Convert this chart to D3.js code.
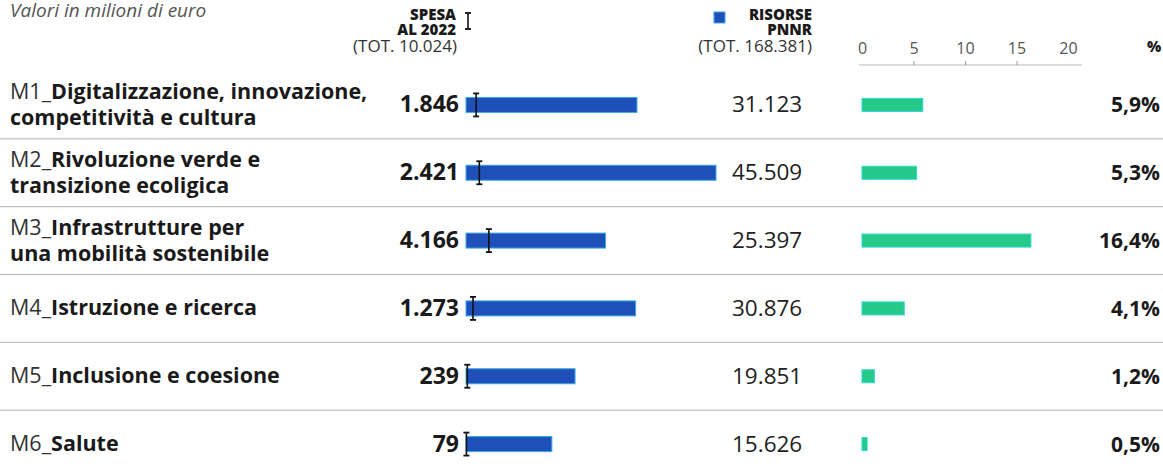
<!DOCTYPE html>
<html>
<head>
<meta charset="utf-8">
<script src="https://cdn.jsdelivr.net/npm/d3@7"></script>
<style>
  body { margin: 0; background: #fff; }
  svg text { font-family: "Open Sans", "Noto Sans", sans-serif; fill: #1a1a1a; }
</style>
</head>
<body>
<div id="chart"></div>
<script>
// --- DATI ---
const codici = ["M1", "M2", "M3", "M4", "M5", "M6"];
const nomi = [
  ["Digitalizzazione, innovazione,", "competitività e cultura"],
  ["Rivoluzione verde e", "transizione ecoligica"],
  ["Infrastrutture per", "una mobilità sostenibile"],
  ["Istruzione e ricerca"],
  ["Inclusione e coesione"],
  ["Salute"]
];
const spesa = [1846, 2421, 4166, 1273, 239, 79];
const risorse = [31123, 45509, 25397, 30876, 19851, 15626];
const percentuale = [5.9, 5.3, 16.4, 4.1, 1.2, 0.5];
const tickPerc = [0, 5, 10, 15, 20];

// --- CONFIGURAZIONE ---
const largeur = 1163, hauteur = 470;
const fmt = d3.formatLocale({ decimal: ",", thousands: ".", grouping: [3], currency: ["", "€"] });
const fmtInt = fmt.format(",d");
const fmtPerc = fmt.format(",.1f");

const svg = d3.select("#chart").append("svg")
  .attr("width", largeur)
  .attr("height", hauteur);

// scale
const y = d3.scaleBand().domain(codici).range([71, 478]).paddingInner(0);
const centro = d => y(d) + y.bandwidth() / 2;
const xRis = d3.scaleLinear().domain([0, 45509]).range([466, 716]);
const xPerc = d3.scaleLinear().domain([0, 20]).range([862, 1068]);

// --- INTESTAZIONE ---
svg.append("text").attr("x", 10).attr("y", 17)
  .style("font-style", "italic").style("font-size", "19px").style("fill", "#555")
  .text("Valori in milioni di euro");

const head = svg.append("g").style("font-size", "15px");
[["SPESA", 20], ["AL 2022", 35]].forEach(([t, yy]) =>
  head.append("text").attr("x", 456).attr("y", yy).attr("text-anchor", "end")
    .style("font-weight", 800).text(t));
head.append("text").attr("x", 457).attr("y", 52).attr("text-anchor", "end")
  .style("font-size", "17px").style("fill", "#333").text("(TOT. 10.024)");

function barretta(g, x, yc, h) {
  g.append("line").attr("x1", x).attr("x2", x).attr("y1", yc - h).attr("y2", yc + h)
    .attr("stroke", "#111").attr("stroke-width", 1.6);
  [yc - h, yc + h].forEach(v => g.append("line")
    .attr("x1", x - 3).attr("x2", x + 3).attr("y1", v).attr("y2", v)
    .attr("stroke", "#111").attr("stroke-width", 1.8));
}
barretta(svg, 468, 21, 8);

svg.append("rect").attr("x", 714).attr("y", 12).attr("width", 11).attr("height", 11)
  .attr("fill", "#1f4fb8").attr("stroke", "#3aa8e6").attr("stroke-width", 1);
[["RISORSE", 20], ["PNNR", 35]].forEach(([t, yy]) =>
  head.append("text").attr("x", 812).attr("y", yy).attr("text-anchor", "end")
    .style("font-weight", 800).text(t));
head.append("text").attr("x", 812).attr("y", 52).attr("text-anchor", "end")
  .style("font-size", "17px").style("fill", "#333").text("(TOT. 168.381)");

// asse percentuale
const asse = svg.append("g").attr("transform", "translate(0,65)")
  .call(d3.axisTop(xPerc).tickValues(tickPerc).tickSize(4).tickPadding(7));
asse.select(".domain").attr("d", `M${xPerc(0) - 3},0H${xPerc(20) + 14}`)
  .attr("stroke", "#bbb").attr("stroke-width", 1);
asse.selectAll(".tick line").attr("stroke", "#999").filter(d => d === 0 || d === 20).remove();
asse.selectAll(".tick text").style("font-size", "16px").style("fill", "#555")
  .style("font-family", "\"Open Sans\", sans-serif");
svg.append("text").attr("x", 1154).attr("y", 52).attr("text-anchor", "middle")
  .style("font-size", "15px").style("font-weight", 800).text("%");

// --- SEPARATORI ---
svg.append("g").selectAll("line").data(codici.slice(1)).join("line")
  .attr("x1", 0).attr("x2", largeur)
  .attr("y1", d => y(d)).attr("y2", d => y(d))
  .attr("stroke", "#b5b5b5").attr("stroke-width", 1);

// --- RIGHE ---
const righe = svg.append("g").selectAll("g").data(codici).join("g");

righe.each(function (c, i) {
  const g = d3.select(this);
  const yc = centro(c);
  const linee = nomi[i];
  const y0 = linee.length === 2 ? yc - 6 : yc + 7;
  linee.forEach((l, j) => {
    const t = g.append("text").attr("x", 10).attr("y", y0 + j * 26).style("font-size", "21.5px");
    if (j === 0) t.append("tspan").style("font-weight", 400).style("fill", "#333").text(c + "_");
    t.append("tspan").style("font-weight", 700).text(l);
  });

  // barra risorse
  g.append("rect").attr("x", xRis(0)).attr("y", yc - 7.5)
    .attr("width", xRis(risorse[i]) - xRis(0)).attr("height", 15)
    .attr("fill", "#1f4fb8").attr("stroke", "#3aa8e6").attr("stroke-width", 1);

  // spesa
  barretta(g, xRis(spesa[i]), yc, 11.5);
  g.append("text").attr("x", 459).attr("y", yc + 7.5).attr("text-anchor", "end")
    .style("font-size", "23px").style("font-weight", 700).text(fmtInt(spesa[i]));

  g.append("text").attr("x", 732).attr("y", yc + 7.5)
    .style("font-size", "22.5px").style("fill", "#222").text(fmtInt(risorse[i]));

  // percentuale
  g.append("rect").attr("x", xPerc(0)).attr("y", yc - 6.5)
    .attr("width", Math.max(3, xPerc(percentuale[i]) - xPerc(0))).attr("height", 13)
    .attr("fill", "#25c98a").attr("stroke", "#2fd8d0").attr("stroke-width", 1);
  g.append("text").attr("x", 1160).attr("y", yc + 7.5).attr("text-anchor", "end")
    .style("font-size", "21px").style("font-weight", 700).text(fmtPerc(percentuale[i]) + "%");
});
</script>
</body>
</html>
